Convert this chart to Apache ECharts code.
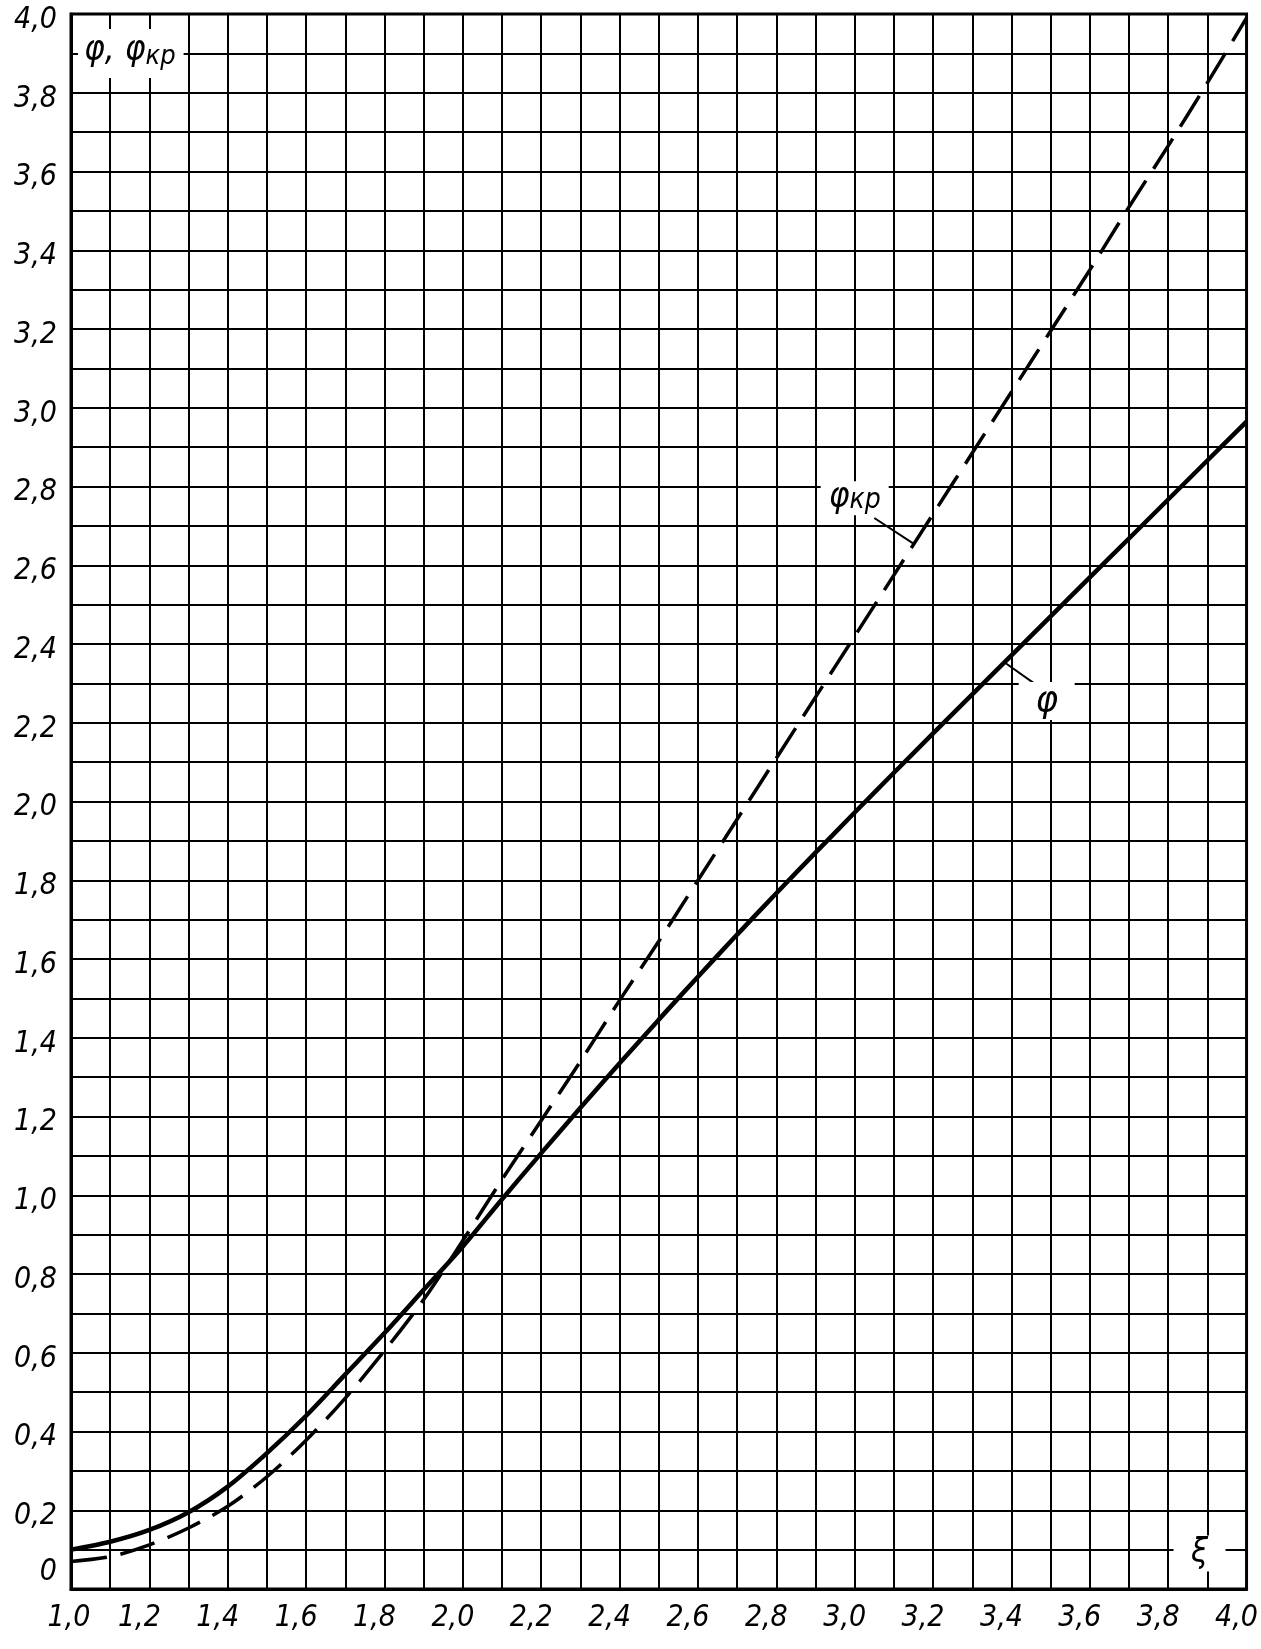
<!DOCTYPE html>
<html>
<head>
<meta charset="utf-8">
<script src="https://cdn.jsdelivr.net/npm/echarts@6/dist/echarts.min.js"></script>
<style>html,body{margin:0;padding:0;background:#fff;}#c{width:1261px;height:1649px;}</style>
</head>
<body>
<div id="c"></div>
<script>
const xi = [1.0,1.1,1.2,1.3,1.4,1.5,1.6,1.7,1.8,1.9,2.0,2.1,2.2,2.3,2.4,2.5,2.6,2.7,2.8,2.9,3.0,3.1,3.2,3.3,3.4,3.5,3.6,3.7,3.8,3.9,4.0];
const phi = [0.10,0.12,0.15,0.195,0.26,0.345,0.44,0.545,0.65,0.76,0.87,0.99,1.107,1.222,1.335,1.446,1.555,1.662,1.767,1.870,1.972,2.073,2.173,2.272,2.371,2.470,2.569,2.668,2.767,2.866,2.965];
const phiKr = [0.07,0.082,0.112,0.155,0.21,0.285,0.378,0.485,0.605,0.735,0.885,1.04,1.19,1.34,1.495,1.645,1.80,1.955,2.11,2.265,2.42,2.575,2.73,2.885,3.04,3.195,3.35,3.51,3.665,3.825,3.99];
const yAxisTitle = ['φ, φ', 'кр'];
const xAxisTitle = 'ξ';
const curveLabels = ['φ', 'φ', 'кр'];

const FONT = "'Liberation Sans Narrow','DejaVu Sans Condensed','Liberation Sans',sans-serif";
const base = {fontFamily: FONT, fontStyle: 'italic', fontWeight: 'normal', fontSize: 30, color: '#000'};
const st = o => Object.assign({}, base, o || {});

const chart = echarts.init(document.getElementById('c'), null, {renderer: 'canvas'});
const fmt = v => (Math.round(v * 10) / 10).toFixed(1).replace('.', ',');

chart.setOption({
  backgroundColor: '#fff',
  animation: false,
  grid: {left: 71, right: 14, top: 14, bottom: 60, show: true, borderColor: '#000', borderWidth: 3, backgroundColor: 'transparent'},
  title: {
    text: '{a|' + yAxisTitle[0] + '}{b|' + yAxisTitle[1] + '}',
    left: 78, top: 27,
    backgroundColor: '#fff',
    padding: [4, 8, 8, 6],
    textStyle: {
      fontWeight: 'normal',
      rich: {
        a: st({fontSize: 35}),
        b: st({fontSize: 27, padding: [12, 0, 0, 0]})
      }
    }
  },
  xAxis: {
    type: 'value', min: 1, max: 4, interval: 0.1,
    axisLine: {show: true, lineStyle: {color: '#000', width: 3}},
    axisTick: {show: false},
    splitLine: {show: true, lineStyle: {color: '#000', width: 2}},
    axisLabel: {
      margin: 14,
      formatter: v => {
        const k = Math.round(v * 10);
        if (k % 2) return '';
        return k === 10 ? '{f|' + fmt(v) + '}' : '{a|' + fmt(v) + '}';
      },
      rich: {
        f: st({padding: [0, 4, 0, 0]}),
        a: st({padding: [0, 20, 0, 0]})
      }
    }
  },
  yAxis: {
    type: 'value', min: 0, max: 4, interval: 0.1,
    axisLine: {show: true, lineStyle: {color: '#000', width: 3}},
    axisTick: {show: false},
    splitLine: {show: true, lineStyle: {color: '#000', width: 2}},
    axisLabel: {
      margin: 14,
      formatter: v => {
        const k = Math.round(v * 10);
        if (k % 2) return '';
        return k === 0 ? '{z|0}' : '{a|' + fmt(v) + '}';
      },
      rich: {
        z: st({padding: [0, 0, 34, 0]}),
        a: st({padding: [12, 0, 0, 0]})
      }
    }
  },
  series: [
    {
      name: 'φ', type: 'line', smooth: 0.3, symbol: 'none',
      data: xi.map((x, i) => [x, phi[i]]),
      lineStyle: {color: '#000', width: 4.5},
      z: 5,
      markLine: {
        silent: true, symbol: ['none', 'none'],
        lineStyle: {color: '#000', width: 2, type: 'solid'},
        label: {show: false},
        data: [[{coord: [3.38, 2.355]}, {coord: [3.458, 2.30]}]]
      },
      markPoint: {
        silent: true,
        data: [
          {coord: [3.49, 2.255], symbol: 'rect', symbolSize: [56, 38], itemStyle: {color: '#fff'},
           label: {show: true, position: 'inside', fontSize: 38, formatter: '{a|' + curveLabels[0] + '}', rich: {a: st({fontSize: 38})}}},
          {coord: [3.88, 0.09], symbol: 'rect', symbolSize: [52, 36], itemStyle: {color: '#fff'},
           label: {show: true, position: 'inside', fontSize: 34, formatter: '{a|' + xAxisTitle + '}', rich: {a: st({fontSize: 34})}}}
        ]
      }
    },
    {
      name: 'φкр', type: 'line', smooth: 0.3, symbol: 'none',
      data: xi.map((x, i) => [x, phiKr[i]]),
      lineStyle: {color: '#000', width: 3.5, type: [36, 14]},
      z: 4,
      markLine: {
        silent: true, symbol: ['none', 'none'],
        lineStyle: {color: '#000', width: 2, type: 'solid'},
        label: {show: false},
        data: [[{coord: [3.05, 2.72]}, {coord: [3.15, 2.655]}]]
      },
      markPoint: {
        silent: true,
        data: [
          {coord: [3.0, 2.77], symbol: 'rect', symbolSize: [68, 34], itemStyle: {color: '#fff'},
           label: {show: true, position: 'inside', fontSize: 35, formatter: '{a|' + curveLabels[1] + '}{b|' + curveLabels[2] + '}',
             rich: {a: st({fontSize: 35}), b: st({fontSize: 28, padding: [4, 0, 0, 0]})}}}
        ]
      }
    }
  ]
});
</script>
</body>
</html>
